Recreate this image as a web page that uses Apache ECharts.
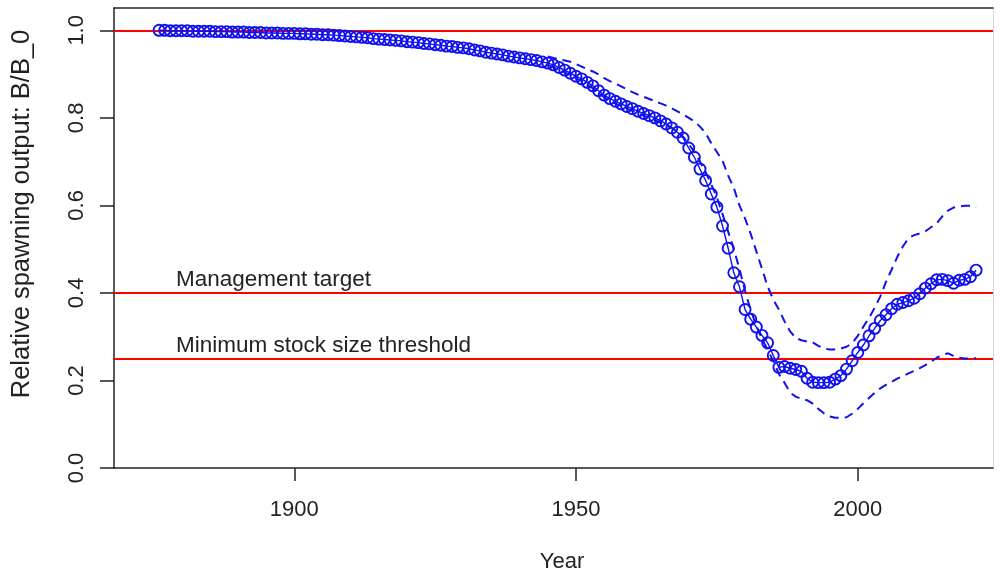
<!DOCTYPE html>
<html>
<head>
<meta charset="utf-8">
<script src="https://cdn.jsdelivr.net/npm/echarts@6/dist/echarts.min.js"></script>
<style>html,body{margin:0;padding:0;background:#fff}#c{width:1000px;height:576px}</style>
</head>
<body>
<div id="c"></div>
<script>
// ---- data ----
const firstYear = 1876;
const relSpawn = [
 1.000,1.000,0.999,0.999,0.999,0.999,0.998,0.998,0.998,0.998, // 1876-1885
 0.997,0.997,0.997,0.996,0.996,0.996,0.995,0.995,0.995,0.994, // 1886-1895
 0.994,0.994,0.993,0.993,0.993,0.992,0.992,0.991,0.991,0.990, // 1896-1905
 0.990,0.989,0.988,0.987,0.986,0.985,0.984,0.983,0.981,0.980, // 1906-1915
 0.979,0.978,0.977,0.976,0.974,0.973,0.972,0.970,0.969,0.967, // 1916-1925
 0.966,0.964,0.963,0.961,0.960,0.958,0.955,0.953,0.950,0.948, // 1926-1935
 0.946,0.944,0.941,0.939,0.937,0.935,0.933,0.931,0.928,0.925, // 1936-1945
 0.921,0.915,0.909,0.902,0.895,0.889,0.881,0.873,0.862,0.852, // 1946-1955
 0.844,0.838,0.832,0.826,0.821,0.815,0.810,0.805,0.800,0.793, // 1956-1965
 0.786,0.777,0.767,0.754,0.731,0.710,0.683,0.657,0.626,0.596, // 1966-1975
 0.553,0.502,0.446,0.414,0.362,0.340,0.322,0.303,0.286,0.257, // 1976-1985
 0.230,0.232,0.228,0.225,0.221,0.205,0.196,0.195,0.195,0.196, // 1986-1995
 0.203,0.211,0.226,0.245,0.264,0.281,0.302,0.319,0.337,0.350, // 1996-2005
 0.364,0.374,0.378,0.382,0.388,0.398,0.411,0.421,0.430,0.431, // 2006-2015
 0.428,0.422,0.429,0.431,0.437,0.452                          // 2016-2021
];
const ciFirstYear = 1945;
const upperCI = [
 0.940,0.937,0.934,0.931,0.928,0.923,0.917,0.911,0.906,0.899, // 1945-1954
 0.891,0.884,0.878,0.872,0.865,0.859,0.853,0.848,0.843,0.838, // 1955-1964
 0.833,0.828,0.822,0.815,0.808,0.800,0.792,0.780,0.765,0.742, // 1965-1974
 0.722,0.702,0.668,0.640,0.600,0.570,0.535,0.495,0.455,0.415, // 1975-1984
 0.385,0.362,0.335,0.312,0.297,0.292,0.289,0.287,0.279,0.273, // 1985-1994
 0.271,0.271,0.273,0.277,0.285,0.302,0.323,0.343,0.366,0.392, // 1995-2004
 0.425,0.453,0.482,0.506,0.525,0.532,0.536,0.541,0.550,0.559, // 2005-2014
 0.575,0.588,0.595,0.598,0.599,0.599,0.597                    // 2015-2021
];
const lowerCI = [
 0.921,0.916,0.910,0.904,0.897,0.890,0.884,0.876,0.867,0.857, // 1945-1954
 0.847,0.839,0.833,0.827,0.821,0.816,0.810,0.805,0.800,0.795, // 1955-1964
 0.789,0.782,0.777,0.768,0.757,0.740,0.722,0.700,0.676,0.648, // 1965-1974
 0.618,0.580,0.540,0.500,0.455,0.405,0.360,0.325,0.295,0.270, // 1975-1984
 0.245,0.215,0.195,0.172,0.163,0.158,0.155,0.147,0.135,0.125, // 1985-1994
 0.118,0.115,0.115,0.116,0.124,0.135,0.148,0.160,0.172,0.182, // 1995-2004
 0.190,0.197,0.204,0.210,0.216,0.222,0.228,0.235,0.243,0.252, // 2005-2014
 0.258,0.262,0.256,0.252,0.250,0.250,0.251                    // 2015-2021
];
const refLevels = [1.0, 0.4, 0.25];
const refLabels = [
  {name: 'Management target', year: 1879, level: 0.4},
  {name: 'Minimum stock size threshold', year: 1879, level: 0.25}
];
const xTicks = [1900, 1950, 2000];
const yTicks = [0, 0.2, 0.4, 0.6, 0.8, 1.0];
const xTitle = 'Year';
const yTitle = 'Relative spawning output: B/B_0';

// ---- build ----
const mainData = relSpawn.map((v, i) => [firstYear + i, v]);
const upData = upperCI.map((v, i) => [ciFirstYear + i, v]);
const loData = lowerCI.map((v, i) => [ciFirstYear + i, v]);

const FONT = 'Liberation Sans, Arial, sans-serif';
const INK = '#222';
const BLUE = '#1010f0';

const chart = echarts.init(document.getElementById('c'), null, {renderer: 'canvas'});
chart.setOption({
  animation: false,
  backgroundColor: '#fff',
  grid: {left: 114, right: 7, top: 8, bottom: 108, containLabel: false},
  xAxis: [{
    type: 'value', min: 1868, max: 2024, position: 'bottom',
    axisLine: {show: true, onZero: false, lineStyle: {color: INK, width: 1.5}},
    axisTick: {show: true, customValues: xTicks, length: 13, lineStyle: {color: INK, width: 1.5}},
    axisLabel: {show: true, customValues: xTicks, margin: 31, fontSize: 22, color: INK, fontFamily: FONT,
      formatter: v => String(v)},
    splitLine: {show: false}
  }, {
    type: 'value', min: 1868, max: 2024, position: 'top',
    axisLine: {show: true, onZero: false, lineStyle: {color: INK, width: 1.5}},
    axisTick: {show: false}, axisLabel: {show: false}, splitLine: {show: false}
  }],
  yAxis: [{
    type: 'value', min: 0, max: 1.051, position: 'left',
    axisLine: {show: true, onZero: false, lineStyle: {color: INK, width: 1.5}},
    axisTick: {show: true, customValues: yTicks, length: 14, lineStyle: {color: INK, width: 1.5}},
    axisLabel: {show: true, customValues: yTicks, rotate: 90, margin: 26, fontSize: 22, color: INK,
      fontFamily: FONT, formatter: v => v.toFixed(1)},
    splitLine: {show: false}
  }, {
    type: 'value', min: 0, max: 1.051, position: 'right',
    axisLine: {show: true, onZero: false, lineStyle: {color: '#d8d8d8', width: 1}},
    axisTick: {show: false}, axisLabel: {show: false}, splitLine: {show: false}
  }],
  series: [{
    type: 'line', name: 'upper', data: upData, showSymbol: false, z: 3,
    lineStyle: {color: BLUE, width: 2, type: [9, 6]}
  }, {
    type: 'line', name: 'lower', data: loData, showSymbol: false, z: 3,
    lineStyle: {color: BLUE, width: 2, type: [9, 6]}
  }, {
    type: 'line', name: 'B/B0', data: mainData, z: 4,
    symbol: 'circle', symbolSize: 11, showAllSymbol: true, showSymbol: true,
    itemStyle: {color: 'rgba(0,0,0,0)', borderColor: BLUE, borderWidth: 1.9},
    lineStyle: {color: BLUE, width: 1.4},
    markLine: {
      silent: true, symbol: ['none', 'none'], z: 2,
      lineStyle: {color: '#ff0000', width: 1.8, type: 'solid'},
      label: {show: false},
      data: refLevels.map(v => ({yAxis: v}))
    },
    markPoint: {
      silent: true, symbol: 'circle', symbolSize: 0,
      itemStyle: {color: 'rgba(0,0,0,0)'},
      data: refLabels.map(r => ({
        coord: [r.year, r.level], value: r.name,
        label: {show: true, position: 'right', distance: 0, offset: [0, -13],
          formatter: r.name, fontSize: 22.5, color: INK, fontFamily: FONT}
      }))
    }
  }],
  graphic: [{
    type: 'text', x: 22, y: 214, rotation: Math.PI / 2,
    style: {text: yTitle, font: '25.5px ' + FONT, fill: INK, textAlign: 'center', textVerticalAlign: 'middle'}
  }, {
    type: 'text', x: 562, y: 562,
    style: {text: xTitle, font: '22px ' + FONT, fill: INK, textAlign: 'center', textVerticalAlign: 'middle'}
  }]
});
</script>
</body>
</html>
